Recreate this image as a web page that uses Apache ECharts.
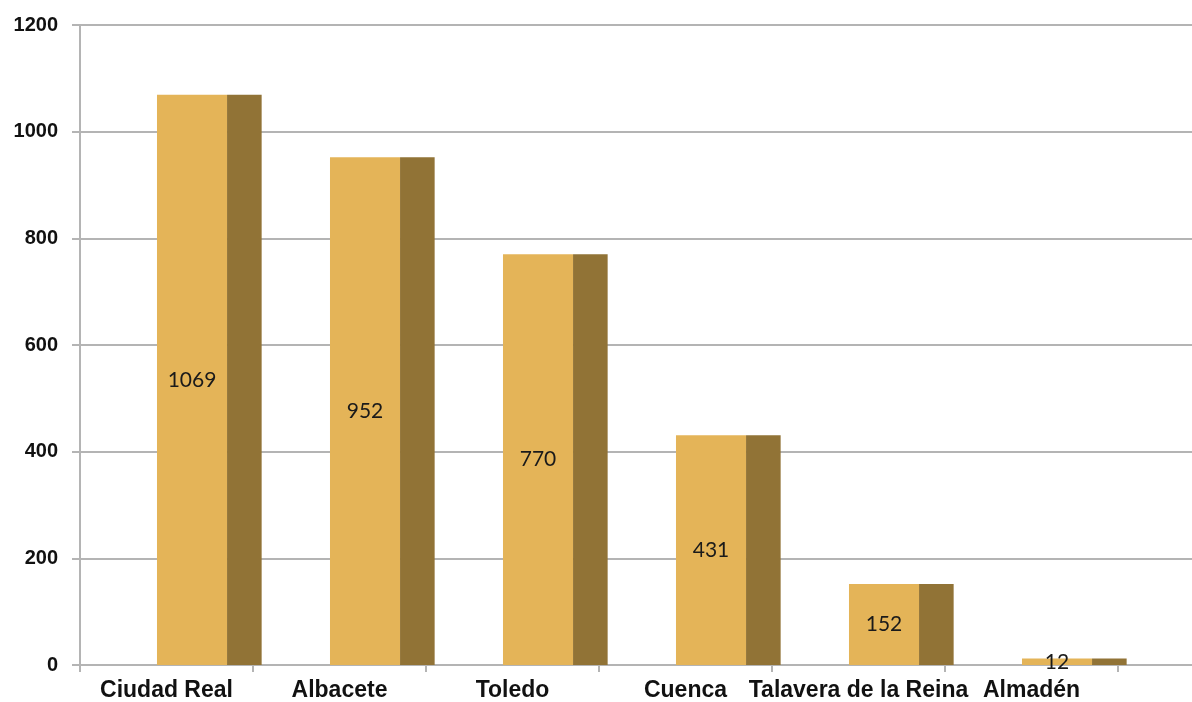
<!DOCTYPE html>
<html>
<head>
<meta charset="utf-8">
<script src="https://cdn.jsdelivr.net/npm/echarts@6/dist/echarts.min.js"></script>
<style>
html,body{margin:0;padding:0;background:#fff;}
#chart{width:1192px;height:702px;}
</style>
</head>
<body>
<div id="chart"></div>
<script>
const categories = ['Ciudad Real', 'Albacete', 'Toledo', 'Cuenca', 'Talavera de la Reina', 'Almadén'];
const values = [1069, 952, 770, 431, 152, 12];
const yTicks = [0, 200, 400, 600, 800, 1000, 1200];

const FRONT = '#E4B458';
const SIDE = '#917336';
const GRIDC = '#B4B4B4';

const chart = echarts.init(document.getElementById('chart'));

function renderItem(params, api) {
  const idx = api.value(0);
  const val = api.value(1);
  const base = api.coord([idx, 0]);
  const top = api.coord([idx, val]);
  const bw = api.size([1, 0])[0];
  const bandStart = base[0] - bw / 2;
  const fx = bandStart + bw * 0.445;
  const fw = bw * 0.405;
  const sw = bw * 0.2;
  const h = base[1] - top[1];
  return {
    type: 'group',
    children: [
      { type: 'rect', shape: { x: fx, y: top[1], width: fw, height: h }, style: { fill: FRONT } },
      { type: 'rect', shape: { x: fx + fw, y: top[1], width: sw, height: h }, style: { fill: SIDE } },
      { type: 'text', x: fx + fw / 2, y: top[1] + h / 2,
        style: { text: String(val), align: 'center', verticalAlign: 'middle',
                 fontSize: 21, fontFamily: 'Lato, "Noto Sans", sans-serif', fill: '#1a1a1a' } }
    ]
  };
}

chart.setOption({
  animation: false,
  backgroundColor: '#fff',
  grid: [
    { left: 80, right: 74, top: 25, bottom: 37 },
    { left: 80, right: 0, top: 25, bottom: 37 }
  ],
  xAxis: [
    {
      gridIndex: 0, type: 'category', data: categories, boundaryGap: true,
      axisLine: { show: true, lineStyle: { color: GRIDC, width: 2 } },
      axisTick: { show: true, length: 7, lineStyle: { color: GRIDC, width: 2 } },
      axisLabel: { color: '#111', fontSize: 23, fontWeight: 'bold', fontFamily: '"Liberation Sans", Arial, sans-serif', margin: 14, interval: 0 },
      z: 3
    },
    {
      gridIndex: 1, type: 'category', data: [''],
      axisLine: { show: true, lineStyle: { color: GRIDC, width: 2 } },
      axisTick: { show: false }, axisLabel: { show: false }
    }
  ],
  yAxis: [
    {
      gridIndex: 0, type: 'value', min: 0, max: 1200, interval: 200,
      axisLine: { show: true, lineStyle: { color: GRIDC, width: 2 } },
      axisTick: { show: true, length: 8, lineStyle: { color: GRIDC, width: 2 } },
      axisLabel: { color: '#111', fontSize: 20, fontWeight: 'bold', fontFamily: '"Liberation Sans", Arial, sans-serif', margin: 22,
        formatter: v => yTicks.includes(v) ? String(v) : '' },
      splitLine: { show: false }
    },
    {
      gridIndex: 1, type: 'value', min: 0, max: 1200, interval: 200,
      axisLine: { show: false }, axisTick: { show: false }, axisLabel: { show: false },
      splitLine: { show: true, lineStyle: { color: GRIDC, width: 2 } }
    }
  ],
  series: [
    {
      type: 'custom', xAxisIndex: 0, yAxisIndex: 0,
      renderItem: renderItem,
      data: values.map((v, i) => [i, v]),
      encode: { x: 0, y: 1 },
      z: 5
    }
  ]
});
</script>
</body>
</html>
